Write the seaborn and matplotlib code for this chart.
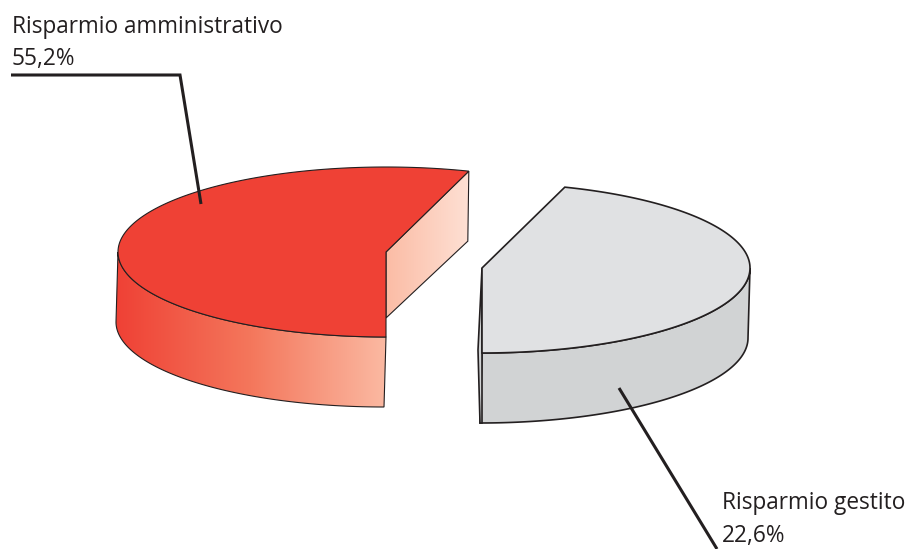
import numpy as np
import matplotlib
matplotlib.use("Agg")
import matplotlib.pyplot as plt
from matplotlib.colors import LinearSegmentedColormap
from matplotlib.patches import Polygon
import seaborn as sns

# --- data ---
categories = ["Risparmio amministrativo", "Risparmio gestito"]
labelled_values = ["55,2%", "22,6%"]
# the sectors as drawn: together they close the full circle
drawn_shares = [55.0, 45.0]

# --- style ---
sns.set_theme(style="white")
plt.rcParams["font.family"] = ["Open Sans", "DejaVu Sans"]
INK = "#231f20"
RED_TOP, GREY_TOP, GREY_SIDE = "#ef4135", "#e0e1e3", "#d1d3d4"
side_cmap = LinearSegmentedColormap.from_list("side", ["#ef4135", "#f4775c", "#fbb9a2"])
cut_cmap = LinearSegmentedColormap.from_list("cut", ["#fbbca5", "#fee0d4"])

fig = plt.figure(figsize=(9.13, 5.49), dpi=100)
ax = fig.add_axes([0, 0, 1, 1])
ax.set_xlim(0, 913)
ax.set_ylim(549, 0)
ax.axis("off")

A, B = 268, 85          # ellipse semi-axes in pixels
START = 72.0            # angle of the common cut edge, degrees above the x axis


def rim(cx, cy, t0, t1, n=240):
    t = np.radians(np.linspace(t0, t1, n))
    return np.column_stack([cx + A * np.cos(t), cy - B * np.sin(t)])


def gradient(poly, cmap, x0, x1, y0, y1):
    im = ax.imshow(np.linspace(0, 1, 256)[None, :], cmap=cmap, aspect="auto",
                   extent=[x0, x1, y1, y0], zorder=2)
    patch = Polygon(poly, closed=True, transform=ax.transData, fc="none", ec="none")
    ax.add_patch(patch)
    im.set_clip_path(patch)
    ax.set_xlim(0, 913)
    ax.set_ylim(549, 0)


def outline(poly, lw, z=3):
    ax.add_patch(Polygon(poly, closed=True, fc="none", ec=INK, lw=lw, zorder=z, joinstyle="miter"))


# --- red sector ---
rc = (386, 252)
red_span = drawn_shares[0] / 100 * 360
r_rim = rim(*rc, START, START + red_span)
r_shift = np.array([-2.0, 70.0])
front = rim(*rc, 180, START + red_span)
r_side = np.vstack([front, (front + r_shift)[::-1]])
gradient(r_side, side_cmap, 116, 386, 240, 410)
outline(r_side, 0.8)
cut = np.array([rc, r_rim[0], r_rim[0] + [-1, 70], [rc[0], rc[1] + 66]])
gradient(cut, cut_cmap, rc[0], r_rim[0][0], 165, 320)
outline(cut, 0.8)
r_top = np.vstack([[rc], r_rim])
ax.add_patch(Polygon(r_top, closed=True, fc=RED_TOP, ec=INK, lw=0.8, zorder=4))

# --- grey sector ---
gc = (482, 268)
grey_span = drawn_shares[1] / 100 * 360
g_rim = rim(*gc, START, START - grey_span)
g_shift = np.array([-2.0, 70.0])
front = rim(*gc, 0, START - grey_span)
g_side = np.vstack([front, (front + g_shift)[::-1]])
ax.add_patch(Polygon(g_side, closed=True, fc=GREY_SIDE, ec=INK, lw=1.2, zorder=3))
sliver = np.array([gc, [478, 350], [480, 423], [482, 423], [482, 353]])
ax.add_patch(Polygon(sliver, closed=True, fc=GREY_SIDE, ec=INK, lw=1.2, zorder=3))
g_top = np.vstack([[gc], g_rim])
ax.add_patch(Polygon(g_top, closed=True, fc=GREY_TOP, ec=INK, lw=1.2, zorder=4))

# --- leader lines ---
ax.plot([11, 180, 201], [75, 75, 204], color=INK, lw=2.2, zorder=6,
        solid_joinstyle="miter", solid_capstyle="butt")
ax.plot([619, 717], [388, 549], color=INK, lw=2.2, zorder=6, solid_capstyle="butt")

# --- labels ---
fs = 16.3
ax.text(12, 27, categories[0], fontsize=fs, color=INK, va="center", ha="left")
ax.text(12, 59, labelled_values[0], fontsize=fs, color=INK, va="center", ha="left")
ax.text(722, 503, categories[1], fontsize=fs, color=INK, va="center", ha="left")
ax.text(722, 536, labelled_values[1], fontsize=fs, color=INK, va="center", ha="left")

fig.savefig("out.png", dpi=100)
